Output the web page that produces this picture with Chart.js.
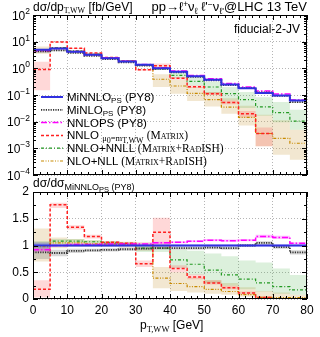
<!DOCTYPE html>
<html>
<head>
<meta charset="utf-8">
<script src="https://cdn.jsdelivr.net/npm/chart.js@4.4.1/dist/chart.umd.min.js"></script>
<style>
body { margin: 0; background: #fff; font-family: "Liberation Sans", Arial, sans-serif; color: #000; }
#wrap { position: relative; width: 320px; height: 337px; overflow: hidden; }
canvas { position: absolute; left: 0; }
.t { position: absolute; white-space: nowrap; font-size: 11.5px; line-height: 14px; }
.t sub { font-size: 8px; vertical-align: -0.3em; line-height: 0; }
.t sup { font-size: 8.5px; vertical-align: 0.45em; line-height: 0; }
.title { font-size: 13px; }
.title sub { font-size: 9px; }
.sf { font-family: "Liberation Serif", serif; }
.mx { font-family: "Liberation Serif", serif; font-variant: small-caps; font-size: 11.5px; }
.small { font-size: 8.5px; }
</style>
</head>
<body>
<div id="wrap">
  <canvas id="upper" width="320" height="180" style="top:0"></canvas>
  <canvas id="lower" width="320" height="157" style="top:180px"></canvas>

  <div class="t" style="left:33px;top:0px;font-size:12px">dσ/dp<sub class="sf">T,WW</sub> [fb/GeV]</div>
  <div class="t title" style="right:13px;top:0px">pp→ℓ<sup>+</sup>ν<sub>ℓ</sub> ℓ'<sup>−</sup>ν<sub>ℓ'</sub>@LHC 13 TeV</div>
  <div class="t" style="right:20px;top:22px;font-size:12px">fiducial-2-JV</div>

  <div class="t" style="left:67px;top:90px">MiNNLO<sub>PS</sub> (PY8)</div>
  <div class="t" style="left:67px;top:103px">MiNLO<sub>PS</sub> (PY8)</div>
  <div class="t" style="left:67px;top:116px">NNLOPS (PY8)</div>
  <div class="t" style="left:67px;top:128px">NNLO <span class="sf small" style="vertical-align:-0.2em">μ<sub>0</sub>=m<sub>T,WW</sub></span> <span class="mx">(Matrix)</span></div>
  <div class="t" style="left:67px;top:141px">NNLO+NNLL <span class="mx">(Matrix+RadISH)</span></div>
  <div class="t" style="left:67px;top:154px">NLO+NLL <span class="mx">(Matrix+RadISH)</span></div>

  <div class="t" style="left:33px;top:176px;font-size:12px">dσ/dσ<sub style="font-size:9px">MiNNLO<sub style="font-size:7.5px">PS</sub> (PY8)</sub></div>
  <div class="t" style="left:140px;top:318px;font-size:12px">p<sub class="sf" style="font-size:8.5px">T,WW</sub> [GeV]</div>
</div>

<script>
// bin edges in GeV
const binEdges = [0, 5, 10, 15, 20, 25, 30, 35, 40, 45, 50, 55, 60, 65, 70, 75, 80];

// MiNNLO_PS central value, fb/GeV
const minnloAbs = [5.0, 5.5, 4.2, 3.2, 2.4, 1.8, 1.35, 1.0, 0.75, 0.5, 0.37, 0.25, 0.18, 0.12, 0.095, 0.062];
const minnloLo  = [0.95, 0.98, 0.98, 0.98, 0.98, 0.98, 0.98, 0.98, 0.98, 0.98, 0.98, 0.98, 0.98, 0.98, 0.98, 0.98];
const minnloHi  = [1.05, 1.02, 1.02, 1.02, 1.02, 1.02, 1.02, 1.02, 1.02, 1.02, 1.02, 1.02, 1.02, 1.02, 1.02, 1.02];

// everything else as ratio to MiNNLO_PS
const minloR  = [0.87, 0.86, 0.90, 0.91, 0.92, 0.93, 0.94, 0.95, 0.95, 0.95, 0.96, 0.95, 1.00, 1.05, 0.97, 0.87];
const minloLo = [0.75, 0.80, 0.86, 0.88, 0.89, 0.90, 0.91, 0.92, 0.92, 0.92, 0.93, 0.92, 0.97, 1.01, 0.94, 0.83];
const minloHi = [1.07, 0.92, 0.94, 0.94, 0.95, 0.96, 0.97, 0.98, 0.98, 0.98, 0.99, 0.98, 1.03, 1.08, 1.00, 0.91];

const nnlopsR  = [0.92, 1.00, 1.02, 1.02, 1.03, 1.03, 1.03, 1.05, 1.06, 1.08, 1.10, 1.09, 1.10, 1.17, 1.15, 1.04];
const nnlopsLo = [0.88, 0.98, 1.00, 1.00, 1.01, 1.01, 1.01, 1.03, 1.04, 1.06, 1.08, 1.07, 1.08, 1.14, 1.12, 1.02];
const nnlopsHi = [0.96, 1.02, 1.04, 1.04, 1.05, 1.05, 1.05, 1.07, 1.08, 1.10, 1.12, 1.11, 1.12, 1.20, 1.18, 1.06];

const nnloR  = [0.18, 1.76, 1.34, 1.17, 1.06, 1.04, 0.66, 1.25, 0.57, 0.41, 0.30, 0.21, 0.11, 0.03, null, null];
const nnloLo = [0.03, 1.70, 1.30, 1.13, 1.03, 1.02, 0.60, 0.95, 0.50, 0.37, 0.27, 0.18, 0.08, 0.01, null, null];
const nnloHi = [0.35, 1.80, 1.38, 1.20, 1.08, 1.06, 0.72, 1.52, 0.63, 0.46, 0.35, 0.25, 0.14, 0.05, null, null];

const nnllR  = [1.00, 1.08, 1.08, 1.07, 1.05, 1.03, 0.95, 0.95, 0.73, 0.65, 0.54, 0.45, 0.37, 0.30, 0.23, 0.17];
const nnllLo = [0.90, 1.03, 1.04, 1.04, 1.02, 1.00, 0.88, 0.88, 0.58, 0.45, 0.30, 0.25, 0.18, 0.14, 0.10, 0.08];
const nnllHi = [1.08, 1.12, 1.12, 1.10, 1.08, 1.06, 1.00, 1.00, 0.92, 0.90, 0.85, 0.80, 0.72, 0.68, 0.57, 0.45];

const nllR  = [0.98, 1.05, 1.05, 1.03, 1.03, 1.02, 1.00, 0.39, 0.29, 0.23, 0.18, 0.14, 0.08, 0.03, 0.025, 0.025];
const nllLo = [0.70, 0.95, 0.97, 0.97, 0.97, 0.96, 0.90, 0.20, 0.15, 0.12, 0.10, 0.08, 0.04, 0.01, 0.006, 0.006];
const nllHi = [1.32, 1.15, 1.12, 1.10, 1.08, 1.07, 1.06, 0.60, 0.50, 0.40, 0.35, 0.30, 0.22, 0.15, 0.12, 0.08];

// axis ticks
const upperExp = [-4, -3, -2, -1, 0, 1, 2];
const xMajor = [0, 10, 20, 30, 40, 50, 60, 70, 80];
const xMinor = [2, 4, 6, 8, 12, 14, 16, 18, 22, 24, 26, 28, 32, 34, 36, 38, 42, 44, 46, 48, 52, 54, 56, 58, 62, 64, 66, 68, 72, 74, 76, 78];
const ratioMajor = [0, 0.5, 1, 1.5, 2];
const ratioMinor = [0.25, 0.75, 1.25, 1.75];

const styles = {
    minnlo: { color: '#3030e0', width: 2,   dash: [],               band: 'rgba(90,90,255,0.30)' },
    minlo:  { color: '#333333', width: 1.8, dash: [1.2, 1.2],       band: 'rgba(140,140,140,0.35)' },
    nnlops: { color: '#ff00ff', width: 1.5, dash: [6, 2, 1.5, 2],   band: 'rgba(255,0,255,0.25)' },
    nnlo:   { color: '#ff2020', width: 1.5, dash: [3, 2],           band: 'rgba(255,40,40,0.18)' },
    nnll:   { color: '#229922', width: 1.2, dash: [3, 2, 1, 2],     band: 'rgba(60,170,60,0.18)' },
    nll:    { color: '#c88a00', width: 1.2, dash: [3, 1.5, 1, 1.5, 1, 1.5], band: 'rgba(205,160,70,0.25)' }
};

const ones = minnloAbs.map(() => 1);

// histogram steps: two points per bin, vertical joins between bins
function stepPoints(vals, base) {
    const pts = [];
    vals.forEach((v, i) => {
        const y = v == null ? null : v * base[i];
        pts.push({ x: binEdges[i], y: y });
        pts.push({ x: binEdges[i + 1], y: y });
    });
    return pts;
}

function makeSets(base) {
    const list = [
        ['minnlo', ones, minnloLo, minnloHi],
        ['minlo', minloR, minloLo, minloHi],
        ['nnlops', nnlopsR, nnlopsLo, nnlopsHi],
        ['nnlo', nnloR, nnloLo, nnloHi],
        ['nnll', nnllR, nnllLo, nnllHi],
        ['nll', nllR, nllLo, nllHi]
    ];
    const sets = [];
    list.forEach(([key, r, lo, hi]) => {
        sets.push({ data: stepPoints(lo, base), borderWidth: 0, borderColor: 'rgba(0,0,0,0)', pointRadius: 0, fill: false, order: 10 });
        sets.push({ data: stepPoints(hi, base), borderWidth: 0, borderColor: 'rgba(0,0,0,0)', pointRadius: 0,
            fill: '-1', backgroundColor: styles[key].band, order: 10 });
    });
    list.forEach(([key, r], i) => {
        const st = styles[key];
        sets.push({ label: key, data: stepPoints(r, base), borderColor: st.color, borderWidth: st.width,
            borderDash: st.dash, pointRadius: 0, fill: false, tension: 0, order: i === 0 ? 0 : 1 });
    });
    return sets;
}

// frame with inward ticks on all four sides
const framePlugin = {
    id: 'frame',
    afterDatasetsDraw(chart, args, opts) {
        const { ctx, chartArea: a, scales } = chart;
        ctx.save();
        ctx.strokeStyle = '#000';
        ctx.lineWidth = 1;
        ctx.setLineDash([]);
        const seg = (x1, y1, x2, y2) => { ctx.beginPath(); ctx.moveTo(x1, y1); ctx.lineTo(x2, y2); ctx.stroke(); };
        const tx = (vals, len) => vals.forEach(v => {
            const p = Math.round(scales.x.getPixelForValue(v)) + 0.5;
            seg(p, a.bottom, p, a.bottom - len);
            seg(p, a.top, p, a.top + len);
        });
        const ty = (vals, len) => vals.forEach(v => {
            const p = Math.round(scales.y.getPixelForValue(v)) + 0.5;
            seg(a.left, p, a.left + len, p);
            seg(a.right, p, a.right - len, p);
        });
        tx(xMajor, 5); tx(xMinor, 3);
        ty(opts.yMajor, 5); ty(opts.yMinor, 3);
        ctx.strokeRect(a.left + 0.5, a.top + 0.5, a.width - 1, a.height - 1);
        ctx.restore();
    }
};

// 10^n labels for the log axis
const expLabels = {
    id: 'expLabels',
    afterDraw(chart) {
        const { ctx, scales, chartArea: a } = chart;
        ctx.save();
        ctx.fillStyle = '#000';
        ctx.textBaseline = 'alphabetic';
        upperExp.forEach(e => {
            const y = scales.y.getPixelForValue(Math.pow(10, e));
            const ex = String(e).replace('-', '\u2212');
            ctx.font = '8.5px "Liberation Sans"';
            const w = ctx.measureText(ex).width;
            const right = a.left - 3;
            ctx.textAlign = 'left';
            ctx.fillText(ex, right - w, y - 1);
            ctx.font = '12px "Liberation Sans"';
            ctx.textAlign = 'right';
            ctx.fillText('10', right - w, y + 4.5);
        });
        ctx.restore();
    }
};

// legend key lines, styled from the line datasets
const legendKeys = {
    id: 'legendKeys',
    afterDraw(chart, args, opts) {
        const ctx = chart.ctx;
        const lines = chart.data.datasets.filter(d => d.label);
        ctx.save();
        lines.forEach((d, i) => {
            const y = opts.y0 + i * opts.dy;
            ctx.strokeStyle = d.borderColor;
            ctx.lineWidth = d.borderWidth;
            ctx.setLineDash(d.borderDash || []);
            ctx.beginPath();
            ctx.moveTo(opts.x0, y);
            ctx.lineTo(opts.x1, y);
            ctx.stroke();
        });
        ctx.restore();
    }
};

const gridStyle = { color: '#b5b5b5', lineWidth: 1, drawTicks: false };
const borderStyle = { display: false, dash: [1, 2] };
const tickFont = { family: '"Liberation Sans"', size: 12 };

const upperMinor = [];
upperExp.slice(0, -1).forEach(e => {
    for (let m = 2; m <= 9; m++) upperMinor.push(m * Math.pow(10, e));
});

new Chart(document.getElementById('upper'), {
    type: 'line',
    data: { datasets: makeSets(minnloAbs) },
    options: {
        responsive: false,
        animation: false,
        events: [],
        layout: { padding: { top: 15, right: 13, bottom: 5, left: 0 } },
        scales: {
            x: {
                type: 'linear', min: 0, max: 80,
                ticks: { display: false, stepSize: 10 },
                grid: gridStyle, border: borderStyle,
                afterFit: s => { s.height = 0; }
            },
            y: {
                type: 'logarithmic', min: 1e-4, max: 100,
                ticks: { display: false },
                afterBuildTicks: s => { s.ticks = upperExp.map(e => ({ value: Math.pow(10, e) })); },
                grid: gridStyle, border: borderStyle,
                afterFit: s => { s.width = 33; }
            }
        },
        plugins: {
            legend: { display: false },
            tooltip: { enabled: false },
            frame: { yMajor: upperExp.map(e => Math.pow(10, e)), yMinor: upperMinor },
            legendKeys: { x0: 41, x1: 63, y0: 97, dy: 12.8 }
        }
    },
    plugins: [framePlugin, expLabels, legendKeys]
});

new Chart(document.getElementById('lower'), {
    type: 'line',
    data: { datasets: makeSets(ones) },
    options: {
        responsive: false,
        animation: false,
        events: [],
        layout: { padding: { top: 12, right: 13, bottom: 0, left: 0 } },
        scales: {
            x: {
                type: 'linear', min: 0, max: 80,
                ticks: { stepSize: 10, font: tickFont, color: '#000', padding: 4, maxRotation: 0 },
                grid: gridStyle, border: borderStyle,
                afterFit: s => { s.height = 38; }
            },
            y: {
                type: 'linear', min: 0, max: 2,
                ticks: { stepSize: 0.5, font: tickFont, color: '#000', padding: 4, callback: v => String(+v) },
                grid: gridStyle, border: borderStyle,
                afterFit: s => { s.width = 33; }
            }
        },
        plugins: {
            legend: { display: false },
            tooltip: { enabled: false },
            frame: { yMajor: ratioMajor, yMinor: ratioMinor }
        }
    },
    plugins: [framePlugin]
});
</script>
</body>
</html>
